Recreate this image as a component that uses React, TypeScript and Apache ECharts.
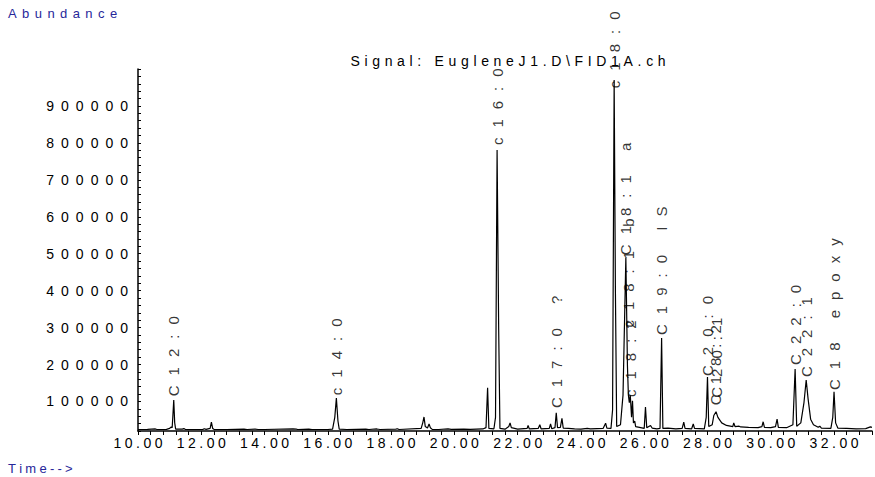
import React, { useEffect, useRef } from 'react';
import * as echarts from 'echarts';

// Chromatogram trace (retention time in minutes, abundance)
const times = [
  10.0, 10.3, 10.55, 10.6, 10.9, 11.0, 11.05, 11.08, 11.1, 11.13, 11.16, 11.19, 11.4, 11.45, 11.5,
  12.05, 12.1, 12.15, 12.28, 12.32, 12.36, 12.4, 12.8, 13.35, 13.45, 13.7, 13.8, 14.0, 14.9, 15.0,
  15.05, 15.4, 15.5, 16.0, 16.15, 16.22, 16.27, 16.32, 16.36, 16.6, 17.2, 17.3, 17.55, 17.65, 18.15,
  18.2, 18.25, 18.95, 19.0, 19.04, 19.08, 19.15, 19.2, 19.24, 19.3, 19.5, 19.8, 19.9, 20.3, 20.5,
  20.9, 21.0, 21.05, 21.09, 21.25, 21.3, 21.35, 21.4, 21.44, 21.6, 21.72, 21.76, 21.8, 22.0, 22.3,
  22.33, 22.37, 22.65, 22.7, 22.74, 23.0, 23.04, 23.08, 23.18, 23.22, 23.26, 23.35, 23.4, 23.44, 23.6,
  23.8, 24.0, 24.2, 24.3, 24.7, 24.78, 24.82, 24.95, 25.0, 25.05, 25.09, 25.13, 25.25, 25.33, 25.42,
  25.47, 25.5, 25.53, 25.56, 25.6, 25.63, 25.66, 25.7, 25.73, 25.85, 26.0, 26.04, 26.08, 26.2, 26.25,
  26.4, 26.5, 26.55, 26.59, 26.75, 27.0, 27.2, 27.25, 27.29, 27.5, 27.55, 27.59, 27.9, 27.96, 28.0,
  28.04, 28.15, 28.2, 28.27, 28.33, 28.45, 28.6, 28.8, 28.83, 28.87, 29.0, 29.05, 29.3, 29.6, 29.72,
  29.76, 29.8, 30.0, 30.15, 30.2, 30.24, 30.5, 30.7, 30.77, 30.82, 30.95, 31.05, 31.12, 31.18, 31.26,
  31.35, 31.5, 31.55, 31.6, 31.9, 31.96, 32.0, 32.05, 32.12, 32.4, 32.7, 33.0, 33.15, 33.2,
];
const abundance = [
  24000, 24500, 25500, 24000, 24500, 27000, 31000, 29000, 57000, 104000, 42000, 25000, 25000, 26500, 24000,
  24500, 26000, 24500, 27000, 44000, 27000, 24500, 24000, 25000, 24000, 25000, 24000, 24000, 25500, 25000,
  24000, 25000, 24000, 24000, 25000, 57000, 109000, 47000, 25000, 24000, 25000, 24000, 25500, 24000, 25000,
  26000, 24000, 27000, 42000, 58000, 32000, 28000, 39000, 29000, 24500, 24000, 25500, 24500, 25000, 24500,
  25500, 29000, 137000, 27000, 26000, 57000, 781000, 297000, 27000, 25000, 32000, 42000, 29000, 25000, 27000,
  35000, 25500, 27000, 37000, 26000, 27000, 39000, 26000, 29000, 69000, 29000, 30000, 54000, 28000, 27000,
  25500, 25000, 27000, 26000, 27000, 41000, 28000, 27000, 77000, 970000, 397000, 32000, 37000, 117000, 490000,
  197000, 117000, 97000, 117000, 57000, 102000, 42000, 47000, 32000, 30000, 27000, 85000, 29000, 35000, 28000,
  26000, 27000, 272000, 27000, 28000, 26000, 27000, 44000, 27000, 26000, 39000, 27000, 26000, 57000, 166000,
  32000, 37000, 62000, 72000, 57000, 42000, 35000, 32000, 42000, 32000, 33000, 31000, 30000, 29000, 32000,
  45000, 30000, 29000, 32000, 52000, 30000, 29000, 37000, 188000, 33000, 42000, 97000, 158000, 107000, 52000,
  37000, 30000, 33000, 28000, 27000, 57000, 126000, 42000, 28000, 27000, 26000, 26500, 31000, 30000,
];

// Peak annotations: retention time, label text, abundance where the label starts
const peakNames = [
  'C12:0', 'c14:0', 'c16:0', 'C17:0 ?', 'c18:0', 'C18:1 a', 'c18:1 b', 'c18:2',
  'C19:0 IS', 'C20:0', 'C18:2', 'C20:1', 'C22:0', 'C22:1', 'C18 epoxy',
];
const peakTimes = [
  11.13, 16.27, 21.35, 23.22, 25.05, 25.42, 25.5, 25.56,
  26.55, 28.0, 28.25, 28.3, 30.77, 31.12, 32.0,
];
const peakLabelBase = [
  114000, 117000, 794000, 82000, 948000, 496000, 300000, 112000,
  280000, 169000, 90000, 110000, 199000, 166000, 131000,
];

const titleText = 'Signal: EugleneJ1.D\\FID1A.ch';
const yAxisName = 'Abundance';
const xAxisName = 'Time-->';

const FONT = "'Liberation Sans', Arial, sans-serif";
const BLUE = '#27279a';

const spaced = (s: string, gap: string) => s.split('').join(gap);

export default function App() {
  const ref = useRef<HTMLDivElement>(null);
  useEffect(() => {
    if (!ref.current) return;
    const chart = echarts.init(ref.current, undefined, { renderer: 'svg' });
    const trace = times.map((t, i) => [t, abundance[i]]);
    const labels = peakTimes.map((t, i) => ({ value: [t, peakLabelBase[i]], name: peakNames[i] }));
    chart.setOption({
      animation: false,
      backgroundColor: '#ffffff',
      grid: { left: 138, right: 3, top: 69, bottom: 46, containLabel: false },
      xAxis: {
        type: 'value',
        min: 10,
        max: 33.2,
        interval: 0.4,
        splitLine: { show: false },
        axisLine: { show: true, onZero: false, lineStyle: { color: '#000', width: 1.5 } },
        axisTick: { show: true, length: 4, lineStyle: { color: '#000', width: 1 } },
        axisLabel: {
          margin: 5,
          color: '#000',
          fontFamily: FONT,
          fontSize: 14,
          formatter: (v: number) => {
            const r = Math.round(v);
            if (Math.abs(v - r) < 1e-6 && r % 2 === 0 && r <= 32) return spaced(r.toFixed(2), '\u2005');
            return '';
          },
        },
      },
      yAxis: {
        type: 'value',
        min: 20000,
        max: 1000000,
        interval: 20000,
        splitLine: { show: false },
        axisLine: { show: true, lineStyle: { color: '#000', width: 1.5 } },
        axisTick: { show: true, inside: true, length: 3, lineStyle: { color: '#000', width: 1 } },
        axisLabel: {
          margin: 10,
          color: '#000',
          fontFamily: FONT,
          fontSize: 14,
          formatter: (v: number) => {
            const r = Math.round(v);
            if (r % 100000 === 0 && r >= 100000 && r < 1000000) return spaced(String(r), '\u2005\u2005');
            return '';
          },
        },
      },
      series: [
        {
          type: 'line',
          data: trace,
          showSymbol: false,
          symbol: 'none',
          lineStyle: { color: '#000', width: 1.2 },
          silent: true,
          clip: true,
        },
        {
          type: 'scatter',
          data: labels,
          symbolSize: 0,
          silent: true,
          clip: false,
          label: {
            show: true,
            position: 'inside',
            rotate: 90,
            align: 'left',
            verticalAlign: 'middle',
            color: '#000',
            fontFamily: FONT,
            fontSize: 15,
            formatter: (p: any) => spaced(p.name, '\u2002\u2006'),
          },
        },
      ],
      graphic: [
        {
          type: 'text',
          left: 8,
          top: 7,
          style: { text: spaced(yAxisName, '\u2004\u200a'), fill: BLUE, font: `13px ${FONT}` },
        },
        {
          type: 'text',
          left: 8,
          top: 462,
          style: { text: spaced(xAxisName, '\u2005'), fill: BLUE, font: `13px ${FONT}` },
        },
        {
          type: 'text',
          x: 508,
          y: 61,
          style: {
            text: spaced(titleText, '\u2004'),
            fill: '#000',
            font: `14px ${FONT}`,
            textAlign: 'center',
            textVerticalAlign: 'middle',
          },
        },
      ],
    });
    return () => chart.dispose();
  }, []);
  return (
    <div
      ref={ref}
      style={{ position: 'absolute', left: 0, top: 0, width: 875, height: 477 }}
    />
  );
}
